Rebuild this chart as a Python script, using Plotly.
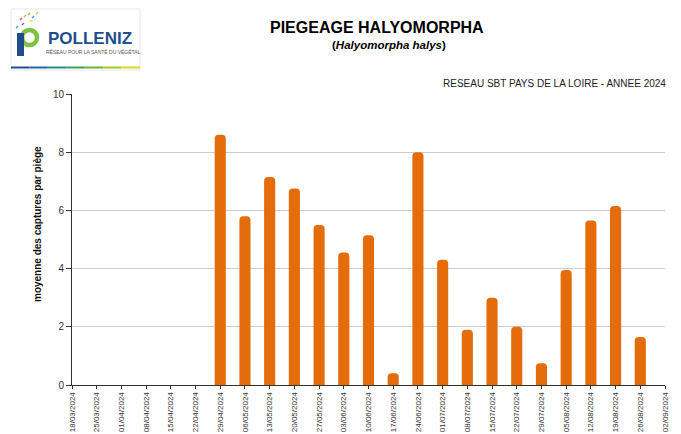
import plotly.graph_objects as go

dates = ["18/03/2024", "25/03/2024", "01/04/2024", "08/04/2024", "15/04/2024",
         "22/04/2024", "29/04/2024", "06/05/2024", "13/05/2024", "20/05/2024",
         "27/05/2024", "03/06/2024", "10/06/2024", "17/06/2024", "24/06/2024",
         "01/07/2024", "08/07/2024", "15/07/2024", "22/07/2024", "29/07/2024",
         "05/08/2024", "12/08/2024", "19/08/2024", "26/08/2024", "02/09/2024"]
bar_dates = ["29/04/2024", "06/05/2024", "13/05/2024", "20/05/2024", "27/05/2024",
             "03/06/2024", "10/06/2024", "17/06/2024", "24/06/2024", "01/07/2024",
             "08/07/2024", "15/07/2024", "22/07/2024", "29/07/2024", "05/08/2024",
             "12/08/2024", "19/08/2024", "26/08/2024"]
captures = [8.6, 5.8, 7.15, 6.75, 5.5, 4.55, 5.15, 0.4, 8.0, 4.3,
            1.9, 3.0, 2.0, 0.75, 3.95, 5.65, 6.15, 1.65]
y_ticks = [0, 2, 4, 6, 8, 10]

FONT = "Liberation Sans, Arial, sans-serif"
ORANGE = "#E46C0A"

# the page body has an 8px default margin: work in window pixels, shift by 8
OFF = 8
W, H = 681 - OFF, 434 - OFF
L, R, T, B = 72, 665, 94, 385  # plot area in window pixels

xpos = [dates.index(d) for d in bar_dates]

fig = go.Figure()
fig.add_trace(go.Bar(
    x=xpos, y=captures, width=0.45,
    marker=dict(color=ORANGE, line=dict(width=0)),
    hoverinfo="skip",
))

fig.update_layout(
    width=W, height=H,
    margin=dict(l=L - OFF, r=W - (R - OFF), t=T - OFF, b=H - (B - OFF)),
    paper_bgcolor="white", plot_bgcolor="white",
    showlegend=False,
    barcornerradius=4,
    font=dict(family=FONT, color="#333"),
    xaxis=dict(
        range=[0, 24], tickmode="array",
        tickvals=list(range(len(dates))), ticktext=dates,
        tickangle=-90, tickfont=dict(size=8, color="#333"),
        showgrid=False, showline=True, linecolor="#333", linewidth=1,
        ticks="outside", ticklen=3, tickcolor="#333",
        automargin=False, zeroline=False, fixedrange=True,
    ),
    yaxis=dict(
        range=[0, 10], tickmode="array", tickvals=y_ticks,
        tickfont=dict(size=10, color="#333"),
        showgrid=True, gridcolor="#cccccc", gridwidth=1,
        showline=True, linecolor="#333", linewidth=1,
        ticks="outside", ticklen=5, tickcolor="#333",
        zeroline=False, automargin=False, fixedrange=True,
    ),
)


def px_x(v):
    return (v - L) / (R - L)


def px_y(v):
    return (B - v) / (B - T)


annotations = [
    dict(text="<b>PIEGEAGE HALYOMORPHA</b>", x=376.5, y=28,
         font=dict(size=16, color="#000")),
    dict(text="<b>(<i>Halyomorpha halys</i>)</b>", x=389, y=45,
         font=dict(size=11.5, color="#000")),
    dict(text="RESEAU SBT PAYS DE LA LOIRE - ANNEE 2024", x=668, y=84,
         xanchor="right", font=dict(size=10, color="#222")),
    dict(text="<b>moyenne des captures par piège</b>", x=37, y=224, textangle=-90,
         font=dict(size=10, color="#111")),
    dict(text="<b>POLLENIZ</b>", x=46, y=38, xanchor="left",
         font=dict(size=17, color="#1F4E8C")),
    dict(text="RÉSEAU POUR LA SANTÉ DU VÉGÉTAL", x=44, y=52, xanchor="left",
         font=dict(size=5, color="#555")),
]
for a in annotations:
    a.update(xref="paper", yref="paper", showarrow=False)
    a["x"] = px_x(a["x"])
    a["y"] = px_y(a["y"])
    a.setdefault("xanchor", "center")
    a["yanchor"] = "middle"
fig.update_layout(annotations=annotations)

shapes = [
    dict(type="rect", x0=px_x(11), x1=px_x(140), y0=px_y(70), y1=px_y(9),
         line=dict(color="#e6e6e6", width=1), fillcolor="white", layer="below"),
    # logo "P": green ring bowl + dark blue stem
    dict(type="circle", x0=px_x(22), x1=px_x(37), y0=px_y(45), y1=px_y(30),
         line=dict(color="#7DC242", width=4.5), fillcolor="rgba(0,0,0,0)"),
    dict(type="rect", x0=px_x(17), x1=px_x(24), y0=px_y(56), y1=px_y(33),
         line=dict(width=0), fillcolor="#1F4E8C"),
]
grad = ["#1F4E8C", "#1F6A9A", "#2B8A8A", "#3C9E5A", "#6BB33A", "#A9C728", "#E0D51E"]
seg = (140 - 11) / len(grad)
for i, c in enumerate(grad):
    shapes.append(dict(type="line", x0=px_x(11 + i * seg), x1=px_x(11 + (i + 1) * seg),
                       y0=px_y(67.5), y1=px_y(67.5), line=dict(color=c, width=2)))
confetti = [(20, 20, "#E84A8A"), (24, 17, "#F2A33A"), (28, 15, "#7AC143"),
            (32, 18, "#29A8E0"), (36, 14, "#B5D334"), (22, 25, "#8A5BA6"),
            (30, 22, "#F7D33C"), (16, 28, "#3FA9F5")]
for x, y, c in confetti:
    shapes.append(dict(type="line", x0=px_x(x), x1=px_x(x + 2), y0=px_y(y), y1=px_y(y - 2),
                       line=dict(color=c, width=1.5)))
for s in shapes:
    s.update(xref="paper", yref="paper")
fig.update_layout(shapes=shapes)

fig.write_html("out.html")
